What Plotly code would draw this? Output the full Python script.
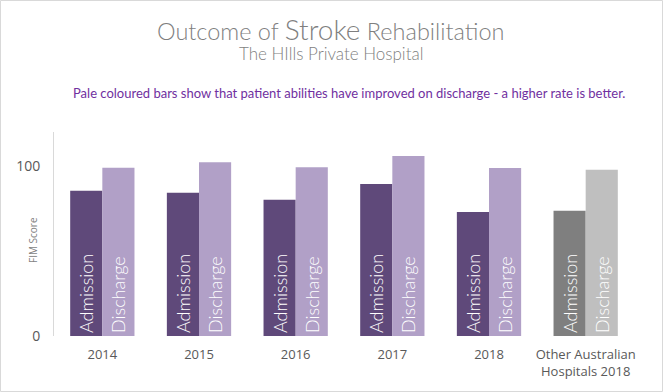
import plotly.graph_objects as go

categories = ["2014", "2015", "2016", "2017", "2018", "Other Australian<br>Hospitals 2018"]
admission = [85.5, 84.3, 80.2, 89.4, 72.9, 73.7]
discharge = [99.0, 102.2, 99.2, 105.9, 98.8, 97.8]
adm_colors = ["#5F497A"] * 5 + ["#7F7F7F"]
dis_colors = ["#B1A0C7"] * 5 + ["#BFBFBF"]
adm_label = "Admission"
dis_label = "Discharge"

W, H = 663, 392
ml, mr, mt, mb = 54, 29, 132, 56
pw, ph = W - ml - mr, H - mt - mb

pad = "\u00a0"

fig = go.Figure()
fig.add_trace(go.Bar(
    x=categories, y=admission, name="Admission",
    marker=dict(color=adm_colors, line=dict(width=0)),
    text=[adm_label + pad] * len(categories), textposition="inside",
    insidetextanchor="start", textangle=-90, constraintext="none",
    textfont=dict(color="white", size=18, family="Lato", weight=300),
    hoverinfo="y",
))
fig.add_trace(go.Bar(
    x=categories, y=discharge, name="Discharge",
    marker=dict(color=dis_colors, line=dict(width=0)),
    text=[dis_label + pad] * len(categories), textposition="inside",
    insidetextanchor="start", textangle=-90, constraintext="none",
    textfont=dict(color="white", size=18, family="Lato", weight=300),
    hoverinfo="y",
))

fig.update_layout(
    width=W, height=H,
    margin=dict(l=ml, r=mr, t=mt, b=mb, autoexpand=False),
    paper_bgcolor="white", plot_bgcolor="white",
    barmode="group", bargap=0.335, bargroupgap=0,
    showlegend=False,
    font=dict(family="Open Sans", color="#595959"),
    xaxis=dict(showline=False, ticks="", automargin=False, ticklabelstandoff=9,
               tickfont=dict(size=13, color="#595959", family="Open Sans"),
               showgrid=False, zeroline=False),
    yaxis=dict(range=[0, 120], tickvals=[0, 100], showgrid=False, zeroline=False,
               showline=True, linecolor="#D9D9D9", linewidth=1, ticks="", automargin=False,
               ticklabelstandoff=10,
               tickfont=dict(size=14, color="#595959", family="Open Sans")),
)

def px(x):
    return (x - ml) / pw

def py(y):
    return (H - mb - y) / ph

fig.add_annotation(xref="paper", yref="paper", x=px(331), y=py(29), showarrow=False,
                   xanchor="center", yanchor="middle",
                   text="Outcome of <span style='font-size:28px'>Stroke</span> Rehabilitation",
                   font=dict(size=23.5, color="#7F7F7F", family="Lato", weight=300))
fig.add_annotation(xref="paper", yref="paper", x=px(331), y=py(53), showarrow=False,
                   xanchor="center", yanchor="middle",
                   text="The HIlls Private Hospital",
                   font=dict(size=17, color="#7F7F7F", family="Lato", weight=300))
fig.add_annotation(xref="paper", yref="paper", x=px(349), y=py(93), showarrow=False,
                   xanchor="center", yanchor="middle",
                   text="Pale coloured bars show that patient abilities have improved on discharge - a higher rate is better.",
                   font=dict(size=13, color="#7030A0", family="Lato"))
fig.add_annotation(xref="paper", yref="paper", x=px(33), y=py(240), showarrow=False,
                   xanchor="center", yanchor="middle", textangle=-90,
                   text="FIM Score", font=dict(size=10, color="#7F7F7F", family="Open Sans"))

fig.add_shape(type="rect", xref="paper", yref="paper",
              x0=px(0.5), x1=px(W - 0.5), y0=py(0.5), y1=py(H - 0.5),
              line=dict(color="#D9D9D9", width=1), fillcolor="rgba(0,0,0,0)", layer="above")

fig.write_html("out.html", config={"displayModeBar": False},
               post_script="document.body.style.margin='0';document.body.style.overflow='hidden';")
